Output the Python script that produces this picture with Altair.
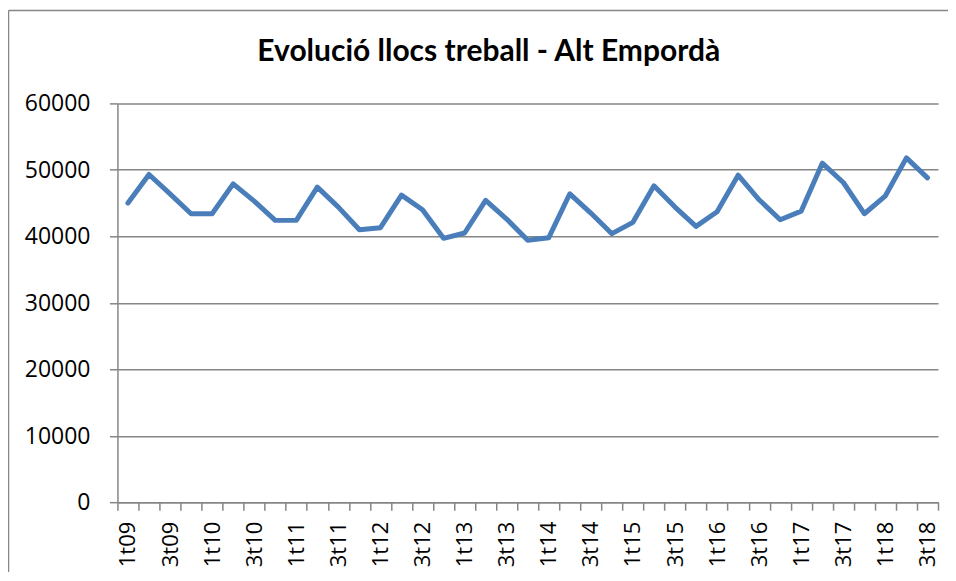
import altair as alt
import pandas as pd

quarters = ["1t09", "2t09", "3t09", "4t09", "1t10", "2t10", "3t10", "4t10",
            "1t11", "2t11", "3t11", "4t11", "1t12", "2t12", "3t12", "4t12",
            "1t13", "2t13", "3t13", "4t13", "1t14", "2t14", "3t14", "4t14",
            "1t15", "2t15", "3t15", "4t15", "1t16", "2t16", "3t16", "4t16",
            "1t17", "2t17", "3t17", "4t17", "1t18", "2t18", "3t18"]
llocs = [45000, 49300, 46400, 43400, 43400, 47900, 45300, 42400,
         42400, 47400, 44400, 41000, 41300, 46200, 44000, 39700,
         40500, 45400, 42600, 39400, 39800, 46400, 43500, 40400,
         42100, 47600, 44400, 41500, 43700, 49200, 45500, 42500,
         43800, 51000, 48100, 43400, 46100, 51800, 48800]
y_ticks = [0, 10000, 20000, 30000, 40000, 50000, 60000]
y_tick_labels = ["0", "10000", "20000", "30000", "40000", "50000", "60000"]
title_text = ["Evolució llocs treball - Alt Empordà"]

df = pd.DataFrame({"trimestre": quarters, "llocs": llocs})
ylab_df = pd.DataFrame({"llocs": y_ticks, "lab": y_tick_labels})

GRAY = "#868686"
TITLE_FONT = "Lato"
LABEL_FONT = "Open Sans"
yscale = alt.Scale(domain=[0, 60000], nice=False, zero=True)

line = alt.Chart(df).mark_line(color="#4A7EBB", strokeWidth=5, strokeJoin="round", strokeCap="round").encode(
    x=alt.X("trimestre:N", sort=quarters, bandPosition=0.5,
            scale=alt.Scale(type="band", paddingInner=0, paddingOuter=0),
            axis=alt.Axis(title=None, labelAngle=-90, labelOverlap=False,
                          labelExpr="(substring(datum.label,0,1)=='1' || substring(datum.label,0,1)=='3') ? datum.label : ''",
                          tickBand="extent", tickSize=8, tickColor=GRAY, tickWidth=1.5,
                          domainColor=GRAY, domainWidth=1.5, labelPadding=11,
                          labelFont=LABEL_FONT, labelFontSize=22, labelColor="black", grid=False)),
    y=alt.Y("llocs:Q", scale=yscale,
            axis=alt.Axis(title=None, values=y_ticks, labels=False, grid=True, gridColor=GRAY,
                          gridWidth=1.5, tickSize=8, tickColor=GRAY, tickWidth=1.5,
                          domainColor=GRAY, domainWidth=1.5)),
)

ylabels = alt.Chart(ylab_df).mark_text(
    font=LABEL_FONT, fontSize=23, color="black", align="right", baseline="middle", dy=1
).encode(text="lab:N", x=alt.value(-27), y=alt.Y("llocs:Q", scale=yscale))

frame_left = alt.Chart(pd.DataFrame({"a": [0]})).mark_rule(color=GRAY, strokeWidth=1.5).encode(
    x=alt.value(-109), y=alt.value(-93), y2=alt.value(600)
)
frame_top = alt.Chart(pd.DataFrame({"a": [0]})).mark_rule(color=GRAY, strokeWidth=1.5).encode(
    x=alt.value(-109), x2=alt.value(900), y=alt.value(-93)
)

title = alt.Chart(pd.DataFrame({"t": title_text})).mark_text(
    font=TITLE_FONT, fontSize=30, fontWeight="bold", color="black", align="center", baseline="alphabetic"
).encode(text="t:N", x=alt.value(371.5), y=alt.value(-42.3))

chart = alt.layer(frame_left, frame_top, title, line, ylabels).properties(
    width=821, height=399,
    padding={"left": 109.5, "top": 95.3, "right": 10, "bottom": 70},
    autosize=alt.AutoSizeParams(type="none"),
).configure_view(stroke=None)

chart.save("out.html", embed_options={"renderer": "svg", "actions": False})
